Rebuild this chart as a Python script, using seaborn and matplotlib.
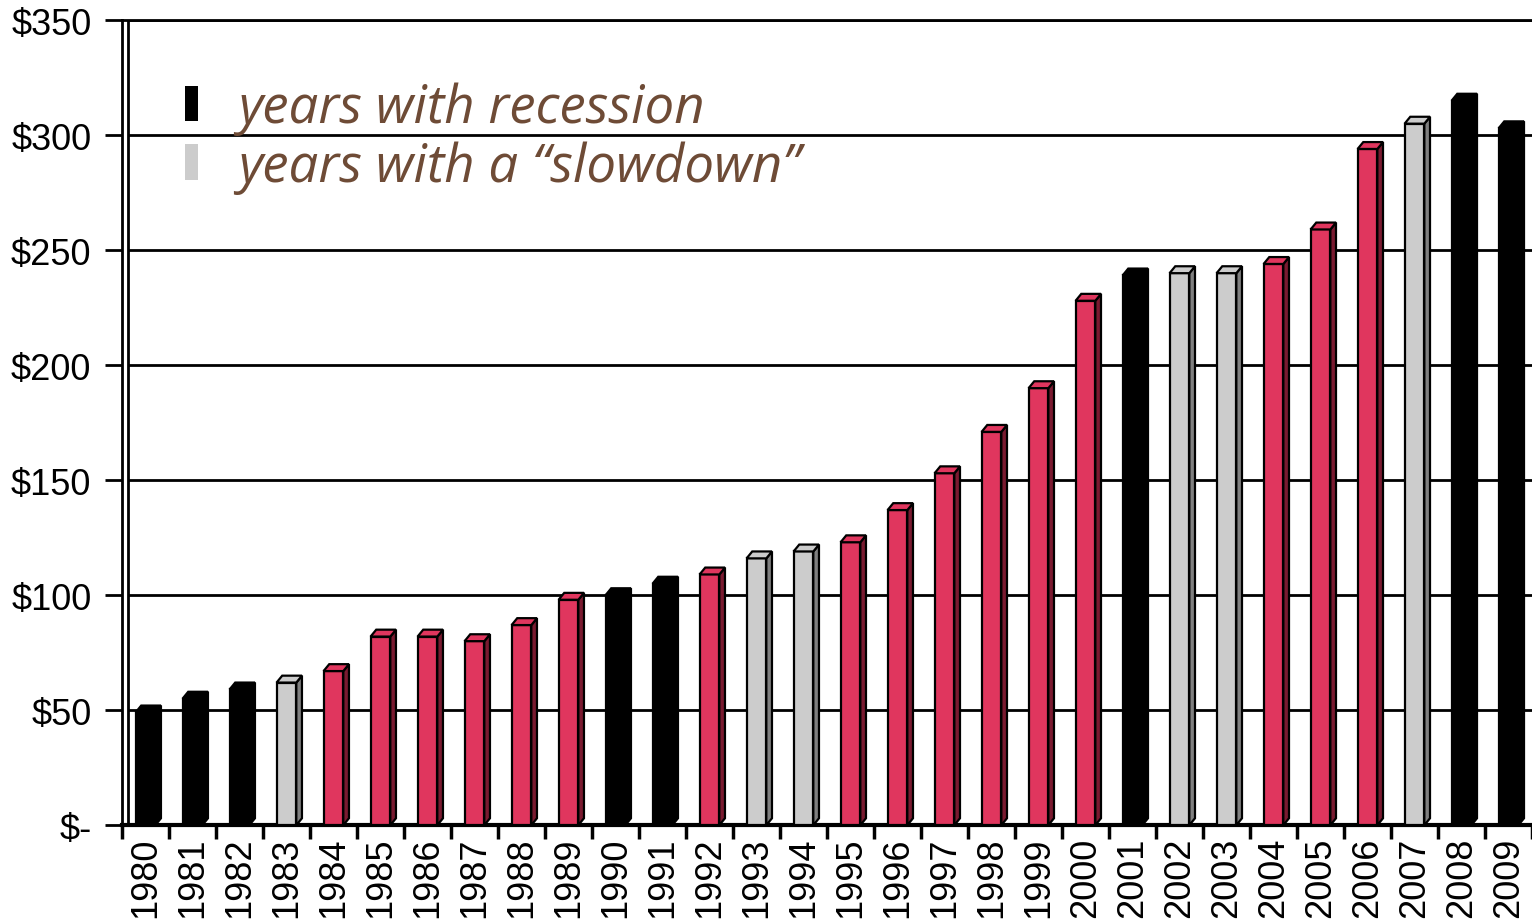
import matplotlib

matplotlib.use("Agg")

import matplotlib.pyplot as plt
import numpy as np
import pandas as pd
import seaborn as sns
from matplotlib.patches import Patch, Polygon

# --- data -------------------------------------------------------------------
years = [str(y) for y in range(1980, 2010)]
values = [49, 55, 59, 62, 67, 82, 82, 80, 87, 98,
          100, 105, 109, 116, 119, 123, 137, 153, 171, 190,
          228, 239, 240, 240, 244, 259, 294, 305, 315, 303]
recession_years = ["1980", "1981", "1982", "1990", "1991", "2001", "2008", "2009"]
slowdown_years = ["1983", "1993", "1994", "2002", "2003", "2007"]
y_ticks = [0, 50, 100, 150, 200, 250, 300, 350]
y_tick_labels = ["$-", "$50", "$100", "$150", "$200", "$250", "$300", "$350"]
legend_labels = ["years with recession", "years with a \u201cslowdown\u201d"]

RED, RED_SIDE = "#E0365E", "#7A1A30"
GREY, GREY_SIDE = "#CCCCCC", "#7F7F7F"
BLACK = "#000000"
BROWN = "#6E4B36"


def kind(year):
    if year in recession_years:
        return "recession"
    if year in slowdown_years:
        return "slowdown"
    return "normal"


frame = pd.DataFrame({"year": years, "value": values})
frame["kind"] = frame["year"].map(kind)
front = {"recession": BLACK, "slowdown": GREY, "normal": RED}
side = {"recession": BLACK, "slowdown": GREY_SIDE, "normal": RED_SIDE}

sns.set_theme(style="white")
plt.rcParams["font.family"] = ["Liberation Sans", "DejaVu Sans"]
plt.rcParams["text.color"] = "black"
plt.rcParams["xtick.color"] = "black"
plt.rcParams["ytick.color"] = "black"

fig = plt.figure(figsize=(15.32, 9.2), dpi=100)
ax = fig.add_axes([0.0796, 0.102, 0.9204, 0.875])

sns.barplot(
    data=frame, x="year", y="value", hue="kind", palette=front,
    width=0.42, edgecolor="black", linewidth=1.6, legend=False,
    dodge=False, saturation=1, ax=ax, zorder=3,
)

# pseudo-3D depth for each bar
dx, dy = 0.12, 3.0
for patch in ax.patches:
    x0 = patch.get_x()
    x1 = x0 + patch.get_width()
    h = patch.get_height()
    col = patch.get_facecolor()
    k = "normal"
    for key, c in front.items():
        if np.allclose(col[:3], matplotlib.colors.to_rgb(c)):
            k = key
    ax.add_patch(Polygon([(x1, 0), (x1 + dx, dy), (x1 + dx, h + dy), (x1, h)],
                         closed=True, facecolor=side[k], edgecolor="black",
                         linewidth=1.6, zorder=3))
    ax.add_patch(Polygon([(x0, h), (x1, h), (x1 + dx, h + dy), (x0 + dx, h + dy)],
                         closed=True, facecolor=front[k], edgecolor="black",
                         linewidth=1.6, zorder=3))

n = len(years)
ax.set_xlim(-0.5, n - 0.5)
ax.set_ylim(0, 350)

# gridlines and back wall line
wall = -0.5 + 0.13
ax.hlines(y_ticks[1:], wall, n - 0.5, colors="black", linewidth=2, zorder=1)
ax.vlines(wall, 0, 350, colors="black", linewidth=2, zorder=1)

ax.spines["right"].set_visible(False)
ax.spines["left"].set_linewidth(2)
ax.spines["top"].set_linewidth(2)
ax.spines["bottom"].set_linewidth(3)
for s in ax.spines.values():
    s.set_color("black")

ax.set_yticks(y_ticks)
ax.set_yticklabels(y_tick_labels, fontsize=26)
ax.tick_params(axis="y", which="major", length=12, width=2, left=True, pad=10)

ax.set_xticks(range(n))
ax.set_xticklabels(years, rotation=90, fontsize=26)
ax.set_xticks(np.arange(-0.5, n, 1.0), minor=True)
ax.tick_params(axis="x", which="major", length=0, pad=8)
ax.tick_params(axis="x", which="minor", length=10, width=2.5, bottom=True, direction="out")
ax.set_xlabel("")
ax.set_ylabel("")

handles = [Patch(facecolor=BLACK, edgecolor="none"), Patch(facecolor=GREY, edgecolor="none")]
ax.legend(
    handles, legend_labels, loc="upper left", bbox_to_anchor=(0.045, 0.924),
    frameon=False, handlelength=0.24, handleheight=0.66, handletextpad=0.75,
    labelspacing=0.1, labelcolor=BROWN, borderaxespad=0, borderpad=0,
    prop={"family": "Open Sans", "style": "italic", "size": 38},
)

fig.savefig("out.png", dpi=100)
